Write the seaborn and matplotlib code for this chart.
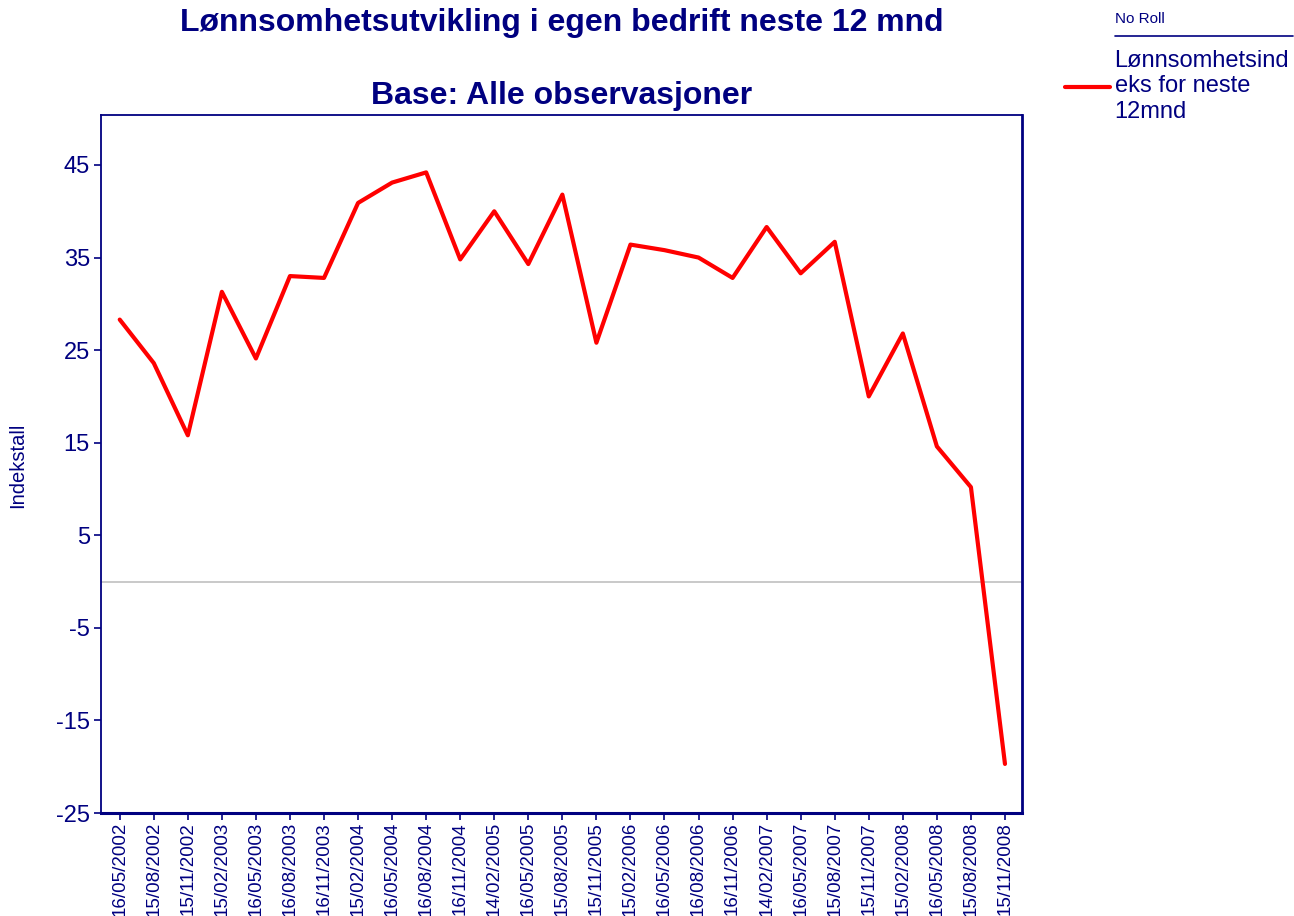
import numpy as np
import pandas as pd
import matplotlib
matplotlib.use("Agg")
import matplotlib.pyplot as plt
import seaborn as sns
from matplotlib.lines import Line2D

dates = ["16/05/2002", "15/08/2002", "15/11/2002", "15/02/2003", "16/05/2003",
         "16/08/2003", "16/11/2003", "15/02/2004", "16/05/2004", "16/08/2004",
         "16/11/2004", "14/02/2005", "16/05/2005", "15/08/2005", "15/11/2005",
         "15/02/2006", "16/05/2006", "16/08/2006", "16/11/2006", "14/02/2007",
         "16/05/2007", "15/08/2007", "15/11/2007", "15/02/2008", "16/05/2008",
         "15/08/2008", "15/11/2008"]
values = [28.3, 23.6, 15.8, 31.3, 24.1, 33.0, 32.8, 40.9, 43.1, 44.2,
          34.8, 40.0, 34.3, 41.8, 25.8, 36.4, 35.8, 35.0, 32.8, 38.3,
          33.3, 36.7, 20.0, 26.8, 14.6, 10.2, -19.7]
yticks = [-25, -15, -5, 5, 15, 25, 35, 45]
series_label = "Lønnsomhetsind\neks for neste\n12mnd"

NAVY = "#000080"
RED = "#FF0000"

sns.set_theme(style="white")
plt.rcParams["font.family"] = ["Liberation Sans", "DejaVu Sans"]

df = pd.DataFrame({"pos": np.arange(len(dates)), "value": values,
                   "series": series_label})

fig = plt.figure(figsize=(12.94, 9.16), dpi=100)
ax = fig.add_axes([101/1294, 1-813/916, (1022-101)/1294, (813-115)/916])

ax.axhline(0, color="#C0C0C0", lw=1.2, zorder=1)
sns.lineplot(data=df, x="pos", y="value", hue="series", palette=[RED],
             lw=3, ax=ax, zorder=3)

ax.set_xlim(-0.55, len(dates) - 0.5)
ax.set_ylim(-25, 50.4)
ax.set_yticks(yticks)
ax.set_yticklabels([str(t) for t in yticks])
ax.set_xticks(df["pos"])
ax.set_xticklabels(dates, rotation=90)
ax.tick_params(axis="y", colors=NAVY, labelcolor=NAVY, labelsize=17,
               direction="out", length=5, width=1.2, left=True, pad=3)
ax.tick_params(axis="x", colors=NAVY, labelcolor=NAVY, labelsize=13.5,
               direction="out", length=5, width=1.2, bottom=True, pad=1.5)
ax.set_xlabel("")
ax.set_ylabel("")
for s in ax.spines.values():
    s.set_visible(True)
    s.set_color(NAVY)
    s.set_linewidth(1.3)
ax.spines["bottom"].set_linewidth(2.2)
ax.spines["right"].set_linewidth(2.0)

fig.text(18/1294, 1-465/916, "Indekstall", rotation=90, color=NAVY,
         fontsize=14.5, ha="center", va="center")

fig.text(562/1294, 1-23/916, "Lønnsomhetsutvikling i egen bedrift neste 12 mnd",
         color=NAVY, fontsize=23, fontweight="bold", ha="center", va="center")
fig.text(562/1294, 1-96/916, "Base: Alle observasjoner",
         color=NAVY, fontsize=23, fontweight="bold", ha="center", va="center")

# legend
fig.text(1115/1294, 1-19/916, "No Roll", color=NAVY, fontsize=11,
         ha="left", va="center")
fig.add_artist(Line2D([1115/1294, 1293/1294], [1-36/916, 1-36/916],
                      transform=fig.transFigure, color=NAVY, lw=1.2))
ax.get_legend().remove()
handles = [Line2D([0], [0], color=RED, lw=3)]
leg = fig.legend(handles, [series_label], loc="upper left",
                 bbox_to_anchor=(1065/1294, 1-50/916),
                 bbox_transform=fig.transFigure, frameon=False,
                 fontsize=17, handlelength=1.9, handletextpad=0.2,
                 borderpad=0, borderaxespad=0)
for t in leg.get_texts():
    t.set_color(NAVY)
    t.set_linespacing(1.2)

fig.savefig("out.png", dpi=100)
